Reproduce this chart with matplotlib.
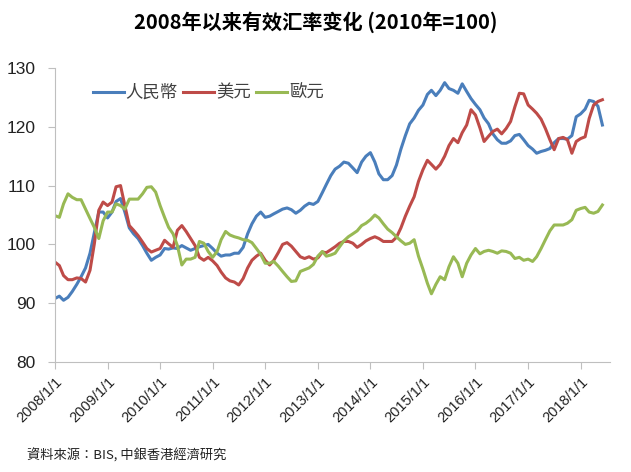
import matplotlib
matplotlib.use("Agg")
import matplotlib.pyplot as plt
import pandas as pd

plt.rcParams['font.family'] = ['Noto Sans CJK TC', 'DejaVu Sans']

# monthly effective exchange rate index, 2010 = 100, Jan 2008 - Jun 2018
cny = [90.8, 91.2, 90.5, 91.0, 92.0, 93.2, 94.5, 96.0, 98.5, 102.0, 105.5, 105.5,
       104.5, 105.5, 107.3, 107.8, 105.5, 102.8, 101.8, 101.0, 99.8, 98.5, 97.3, 97.8,
       98.2, 99.3, 99.2, 99.4, 99.3, 99.8, 99.4, 99.0, 99.3, 99.6, 99.8, 100.0,
       99.3, 98.5, 98.0, 98.2, 98.2, 98.5, 98.5, 99.5, 101.8, 103.5, 104.8, 105.5,
       104.6, 104.8, 105.2, 105.6, 106.0, 106.2, 105.9, 105.3, 105.8, 106.5, 107.0, 106.8,
       107.3, 108.8, 110.2, 111.7, 112.8, 113.3, 114.0, 113.8, 113.0, 112.2, 114.0, 115.0,
       115.6, 114.0, 112.0, 111.0, 111.0, 111.7, 113.5, 116.2, 118.5, 120.5, 121.5, 122.8,
       123.7, 125.5, 126.2, 125.3, 126.2, 127.5, 126.5, 126.2, 125.7, 127.3, 126.0, 124.8,
       123.8, 122.9, 121.5, 120.5, 118.8, 117.8, 117.2, 117.2, 117.6, 118.5, 118.7, 117.8,
       116.8, 116.2, 115.5, 115.8, 116.0, 116.3, 117.3, 118.0, 118.0, 117.9, 118.5, 121.7,
       122.2, 123.0, 124.5, 124.3, 123.5, 120.3]

usd = [97.0, 96.4, 94.7, 94.0, 94.0, 94.3, 94.2, 93.6, 95.6, 100.1, 105.8, 107.2,
       106.6, 107.2, 109.8, 110.0, 106.6, 103.2, 102.4, 101.5, 100.4, 99.3, 98.7, 99.0,
       99.3, 100.7, 100.1, 99.5, 102.4, 103.2, 102.2, 101.0, 99.8, 97.8, 97.3, 97.8,
       97.2, 96.4, 95.3, 94.3, 93.8, 93.6, 93.1, 94.2, 96.0, 97.3, 98.0, 98.5,
       97.3, 96.5, 97.3, 98.6, 100.0, 100.3, 99.7, 98.8, 97.9, 97.6, 97.9, 97.5,
       97.7, 98.7, 98.6, 99.1, 99.6, 100.2, 100.5, 100.5, 100.2, 99.5, 100.0, 100.6,
       101.0, 101.3, 101.0, 100.5, 100.5, 100.5, 101.2, 102.8, 104.8, 106.5, 108.1, 110.7,
       112.7, 114.3, 113.6, 112.8, 113.6, 115.0, 116.8, 118.0, 117.3, 119.0, 120.3, 122.9,
       122.0, 119.8, 117.5, 118.4, 119.2, 119.6, 118.8, 119.7, 120.9, 123.4, 125.7, 125.6,
       123.7, 123.0, 122.3, 121.3, 119.7, 117.8, 116.1, 118.0, 118.2, 117.8, 115.5, 117.5,
       118.0, 118.3, 121.4, 123.7, 124.3, 124.6]

eur = [104.9, 104.6, 106.9, 108.6, 108.0, 107.6, 107.6, 106.0, 104.4, 102.9, 101.0, 104.0,
       105.5, 105.5, 106.9, 106.6, 106.0, 107.7, 107.7, 107.7, 108.6, 109.7, 109.8, 108.9,
       106.6, 104.6, 102.9, 101.8, 99.8, 96.5, 97.5, 97.5, 97.8, 100.5, 100.2, 98.8,
       97.8, 98.8, 100.8, 102.2, 101.6, 101.3, 101.1, 100.8, 100.7, 100.3, 99.3, 98.3,
       96.8, 96.8, 97.1, 96.3, 95.4, 94.5, 93.7, 93.8, 95.4, 95.7, 96.0, 96.6,
       98.0, 98.8, 98.0, 98.2, 98.5, 99.6, 100.6, 101.3, 101.8, 102.3, 103.2, 103.6,
       104.2, 105.0, 104.5, 103.5, 102.6, 102.0, 101.3, 100.6, 100.0, 100.2, 100.8, 98.0,
       95.8, 93.4, 91.6, 93.2, 94.5, 94.0, 96.2, 97.9, 96.8, 94.5, 96.8, 98.2,
       99.3, 98.4, 98.8, 99.0, 98.8, 98.5, 98.9, 98.8, 98.5, 97.6, 97.8, 97.3,
       97.5, 97.1, 97.9, 99.3, 100.8, 102.3, 103.3, 103.3, 103.3, 103.6, 104.2, 105.8,
       106.1, 106.3, 105.5, 105.3, 105.6, 106.7]

names = ['人民幣', '美元', '歐元']
colors = ['#4a7ebb', '#be4b48', '#98b954']

dates = pd.date_range('2008-01-01', periods=len(cny), freq='MS')
tick_dates = pd.date_range('2008-01-01', '2018-01-01', freq='YS')
tick_labels = [f'{d.year}/1/1' for d in tick_dates]

fig = plt.figure(figsize=(6.31, 4.72), dpi=100)
ax = fig.add_axes([0.087, 0.233, 0.88, 0.623])

for vals, name, c in zip([cny, usd, eur], names, colors):
    ax.plot(dates, vals, color=c, lw=2.2, label=name)

ax.set_ylim(80, 130)
ax.set_yticks(range(80, 131, 10))
ax.set_xlim(pd.Timestamp('2008-01-01'), pd.Timestamp('2018-07-25'))
ax.set_xticks(tick_dates)
ax.set_xticklabels(tick_labels, rotation=45, ha='right', rotation_mode='anchor',
                   family=['Liberation Sans'], fontsize=10.5)
for lab in ax.get_yticklabels():
    lab.set_family(['Liberation Sans'])
    lab.set_fontsize(12.5)

for s in ['top', 'right']:
    ax.spines[s].set_visible(False)
for s in ['left', 'bottom']:
    ax.spines[s].set_color('#bfbfbf')
ax.tick_params(axis='both', colors='#bfbfbf', length=5, labelcolor='#222222')
ax.tick_params(axis='y', pad=9)
ax.tick_params(axis='x', pad=4)

ax.legend(loc='upper left', bbox_to_anchor=(0.04, 1.0), ncol=3, frameon=False,
          fontsize=12.5, handlelength=1.8, handletextpad=0.1, columnspacing=0.3,
          labelcolor='#404040')

fig.text(0.5, 0.953, '2008年以来有效汇率变化 (2010年=100)', ha='center', va='center',
         fontsize=14.5, fontweight='bold', family=['Noto Sans CJK SC', 'DejaVu Sans'])
fig.text(0.043, 0.035, '資料來源：BIS, 中銀香港經濟研究', ha='left', va='center',
         fontsize=9.5, color='#222222')

fig.savefig('out.png', dpi=100)
